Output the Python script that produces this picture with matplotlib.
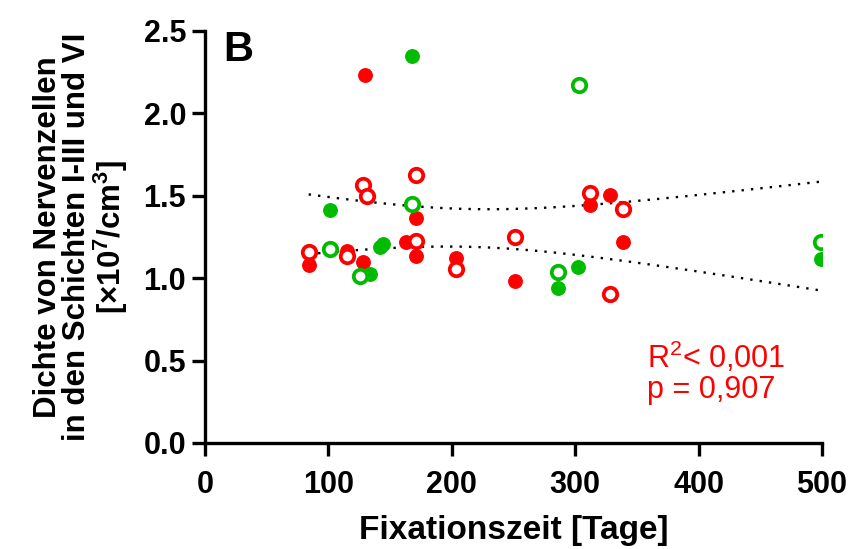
import numpy as np
import matplotlib
matplotlib.use("Agg")
import matplotlib.pyplot as plt

plt.rcParams['font.family'] = ['Liberation Sans', 'DejaVu Sans']
plt.rcParams['mathtext.fontset'] = 'custom'
plt.rcParams['mathtext.rm'] = 'Liberation Sans'
plt.rcParams['mathtext.bf'] = 'Liberation Sans:bold'
plt.rcParams['mathtext.default'] = 'rm'

# Data (days, density x10^7/cm^3)
red_filled_x = [84, 115, 128, 130, 163, 171, 171, 203, 251, 312, 328, 339]
red_filled_y = [1.08, 1.167, 1.096, 2.23, 1.218, 1.132, 1.364, 1.12, 0.984, 1.445, 1.502, 1.221]
red_open_x = [84, 115, 128, 131, 171, 171, 203, 251, 312, 339, 328]
red_open_y = [1.16, 1.136, 1.567, 1.498, 1.227, 1.624, 1.055, 1.248, 1.518, 1.421, 0.902]
green_filled_x = [101, 134, 142, 144, 168, 286, 302, 499]
green_filled_y = [1.415, 1.024, 1.19, 1.205, 2.346, 0.941, 1.069, 1.116]
green_open_x = [101, 126, 168, 286, 303, 499]
green_open_y = [1.177, 1.014, 1.451, 1.035, 2.173, 1.218]

xticks = [0, 100, 200, 300, 400, 500]
yticks = [0.0, 0.5, 1.0, 1.5, 2.0, 2.5]

RED = '#FF0000'
GREEN = '#00BB00'

fig = plt.figure(figsize=(8.52, 5.49), dpi=100)
ax = fig.add_axes([0.2406, 0.1931, 0.7242, 0.7505])

# regression confidence band computed from all points
xs = np.array(red_filled_x + red_open_x + green_filled_x + green_open_x, float)
ys = np.array(red_filled_y + red_open_y + green_filled_y + green_open_y, float)
n = len(xs)
b, a = np.polyfit(xs, ys, 1)
res = ys - (a + b * xs)
s = np.sqrt(np.sum(res**2) / (n - 2))
t = 2.03
xg = np.linspace(xs.min(), xs.max(), 200)
se = s * np.sqrt(1.0 / n + (xg - xs.mean())**2 / np.sum((xs - xs.mean())**2))
yfit = a + b * xg
ax.plot(xg, yfit + t * se, color='black', ls=(0, (1, 3)), lw=1.7, zorder=1)
ax.plot(xg, yfit - t * se, color='black', ls=(0, (1, 3)), lw=1.7, zorder=1)

ms = 9.7
ax.plot(red_filled_x, red_filled_y, 'o', color=RED, ms=ms, mec=RED, ls='none', zorder=3)
ax.plot(green_filled_x, green_filled_y, 'o', color=GREEN, ms=ms, mec=GREEN, ls='none', zorder=3)
ax.plot(red_open_x, red_open_y, 'o', mfc='white', mec=RED, ms=ms, mew=2.7, ls='none', zorder=4)
ax.plot(green_open_x, green_open_y, 'o', mfc='white', mec=GREEN, ms=ms, mew=2.7, ls='none', zorder=4)

ax.set_xlim(0, 500)
ax.set_ylim(0, 2.5)
ax.set_xticks(xticks)
ax.set_yticks(yticks)
ax.set_xticklabels([str(v) for v in xticks])
ax.set_yticklabels([f"{v:.1f}" for v in yticks])
for sp in ['top', 'right']:
    ax.spines[sp].set_visible(False)
for sp in ['left', 'bottom']:
    ax.spines[sp].set_linewidth(2.4)
ax.tick_params(axis='both', direction='out', length=9.5, width=2.4, labelsize=22)
ax.tick_params(axis='x', pad=10)
ax.tick_params(axis='y', pad=4)
for lab in ax.get_xticklabels() + ax.get_yticklabels():
    lab.set_fontweight('bold')
ax.patch.set_alpha(0)
for sp in ax.spines.values():
    sp.set_clip_on(False)

ax.set_xlabel('Fixationszeit [Tage]', fontsize=24, fontweight='bold', labelpad=11)
ax.set_ylabel('Dichte von Nervenzellen\nin den Schichten I-III und VI\n[×10$^{\\mathbf{7}}$/cm$^{\\mathbf{3}}$]',
              fontsize=22.5, fontweight='bold', labelpad=10, linespacing=0.97)

ax.text(0.029, 1.003, 'B', transform=ax.transAxes, fontsize=30, fontweight='bold', va='top', ha='left')
ax.text(0.717, 0.25, 'R$^{2}$< 0,001\np = 0,907', transform=ax.transAxes, fontsize=22,
        color=RED, va='top', ha='left', linespacing=1.0)

fig.savefig('out.png', dpi=100)
